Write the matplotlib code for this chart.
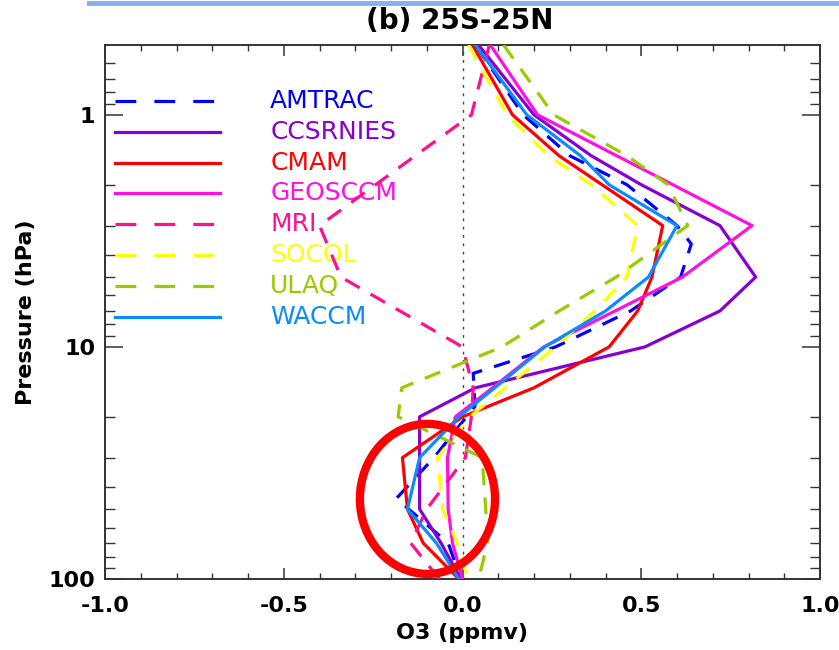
import matplotlib
matplotlib.use("Agg")
import matplotlib.pyplot as plt
from matplotlib.patches import Ellipse
from matplotlib.lines import Line2D
from matplotlib.ticker import FixedLocator, NullFormatter, MultipleLocator

plt.rcParams['font.family'] = ['DejaVu Sans']
plt.rcParams['lines.scale_dashes'] = False

# ---- data (O3 difference, ppmv, vs pressure, hPa) ----
models = ['AMTRAC', 'CCSRNIES', 'CMAM', 'GEOSCCM', 'MRI', 'SOCOL', 'ULAQ', 'WACCM']
colors = ['#0000ff', '#8800d0', '#ff0000', '#ff10e0', '#ff1090', '#ffff00', '#99cc00', '#0a8cff']
dashed = [True, False, False, False, True, True, True, False]

amtrac_p = [0.5, 1, 1.5, 2, 3, 3.6, 5, 7, 10, 13, 18, 30, 45, 70, 100]
amtrac_o3 = [0.036, 0.17, 0.30, 0.46, 0.60, 0.64, 0.61, 0.47, 0.26, 0.03, 0.035, -0.08, -0.185, -0.04, -0.005]

ccsrnies_p = [0.5, 1, 1.5, 2, 3, 5, 7, 10, 15, 20, 50, 70, 100]
ccsrnies_o3 = [0.045, 0.20, 0.36, 0.50, 0.72, 0.82, 0.72, 0.51, 0.036, -0.12, -0.12, -0.06, -0.005]

cmam_p = [0.5, 1, 1.5, 3, 5, 7, 10, 15, 20, 30, 50, 70, 100]
cmam_o3 = [0.028, 0.14, 0.27, 0.56, 0.53, 0.49, 0.41, 0.20, 0.0, -0.168, -0.154, -0.11, -0.01]

geosccm_p = [0.5, 1, 3, 5, 10, 15, 20, 30, 50, 70, 100]
geosccm_o3 = [0.078, 0.21, 0.81, 0.615, 0.227, 0.084, -0.02, -0.042, -0.04, -0.028, 0.0]

mri_p = [0.5, 1, 3, 5, 10, 15, 20, 30, 50, 70, 100]
mri_o3 = [0.075, 0.025, -0.40, -0.34, 0.0, 0.03, 0.025, 0.008, -0.10, -0.145, -0.065]

socol_p = [0.5, 1, 1.5, 2, 3, 5, 7, 10, 15, 20, 30, 50, 70, 100]
socol_o3 = [0.017, 0.125, 0.24, 0.36, 0.49, 0.46, 0.37, 0.26, 0.12, 0.02, -0.07, -0.055, -0.015, 0.015]

ulaq_p = [0.5, 1, 1.5, 2, 3, 5, 7, 10, 15, 20, 30, 50, 70, 100]
ulaq_o3 = [0.115, 0.255, 0.46, 0.575, 0.63, 0.43, 0.27, 0.11, -0.17, -0.18, 0.055, 0.065, 0.07, 0.045]

waccm_p = [0.5, 1, 1.5, 2, 3, 5, 7, 10, 15, 20, 30, 50, 70, 100]
waccm_o3 = [0.036, 0.18, 0.33, 0.41, 0.60, 0.52, 0.40, 0.23, 0.09, -0.01, -0.12, -0.154, -0.073, -0.01]

pressures = [amtrac_p, ccsrnies_p, cmam_p, geosccm_p, mri_p, socol_p, ulaq_p, waccm_p]
ozone = [amtrac_o3, ccsrnies_o3, cmam_o3, geosccm_o3, mri_o3, socol_o3, ulaq_o3, waccm_o3]

xticks = [-1.0, -0.5, 0.0, 0.5, 1.0]
yticks = [1, 10, 100]

fig = plt.figure(figsize=(8.39, 6.5), dpi=100)
ax = fig.add_axes([105 / 839, 71 / 650, 715 / 839, 534 / 650])

dash_style = (0, (12, 9))
for p, o3, c, d in zip(pressures, ozone, colors, dashed):
    ax.plot(o3, p, color=c, lw=2.3, ls=dash_style if d else '-', zorder=3)

ax.axvline(0.0, color='#444444', lw=1.0, ls=(0, (2, 4)), zorder=2)

ax.set_yscale('log')
ax.set_xlim(-1.0, 1.0)
ax.set_ylim(100, 0.5)

ax.set_xticks(xticks)
ax.set_xticklabels(['%.1f' % v for v in xticks])
ax.xaxis.set_minor_locator(MultipleLocator(0.1))
ax.set_yticks(yticks)
ax.set_yticklabels([str(v) for v in yticks])
minor_y = [0.6, 0.7, 0.8, 0.9] + [k * 1 for k in range(2, 10)] + [k * 10 for k in range(2, 10)]
ax.yaxis.set_minor_locator(FixedLocator(minor_y))
ax.yaxis.set_minor_formatter(NullFormatter())

ax.tick_params(axis='x', which='major', direction='in', length=8, width=1.1, top=True, bottom=True,
               labelsize=16, pad=12, colors='#333333', labelcolor='black')
ax.tick_params(axis='x', which='minor', direction='in', length=4.5, width=1.0, top=True, bottom=True,
               colors='#333333')
ax.tick_params(axis='y', which='major', direction='in', length=13, width=1.1, left=True, right=True,
               labelsize=16, pad=7, colors='#333333', labelcolor='black')
ax.tick_params(axis='y', which='minor', direction='in', length=7, width=1.0, left=True, right=True,
               colors='#333333')
for lab in ax.get_xticklabels() + ax.get_yticklabels():
    lab.set_fontweight('bold')
for s in ax.spines.values():
    s.set_color('#333333')
    s.set_linewidth(1.4)

ax.set_xlabel('O3 (ppmv)', fontsize=16, fontweight='bold')
ax.set_ylabel('Pressure (hPa)', fontsize=16, fontweight='bold')
ax.xaxis.set_label_coords(0.5, -0.083)
ax.yaxis.set_label_coords(-0.097, 0.5)

# legend drawn by hand: sample line plus coloured name
row_y = [0.895, 0.837, 0.779, 0.722, 0.664, 0.607, 0.548, 0.491]
for name, c, d, yy in zip(models, colors, dashed, row_y):
    ax.add_line(Line2D([0.014, 0.161], [yy, yy], transform=ax.transAxes, color=c, lw=2.3,
                       ls=(0, (15, 13)) if d else '-', zorder=3))
    ax.text(0.231, yy, name, transform=ax.transAxes, color=c, fontsize=18,
            va='center', ha='left', zorder=1)

# red circle highlighting the lower stratosphere
ax.add_patch(Ellipse((0.451, 0.150), 0.189, 0.281, transform=ax.transAxes, fill=False,
                     ec='#ff0000', lw=6, zorder=5, clip_on=False))

fig.text(0.548, 0.968, '(b) 25S-25N', ha='center', va='center', fontsize=20, fontweight='bold')
fig.add_artist(Line2D([89 / 839, 1.0], [1 - 2.5 / 650, 1 - 2.5 / 650], transform=fig.transFigure,
                      color='#86aef0', lw=3.5))

fig.savefig('out.png', dpi=100)
